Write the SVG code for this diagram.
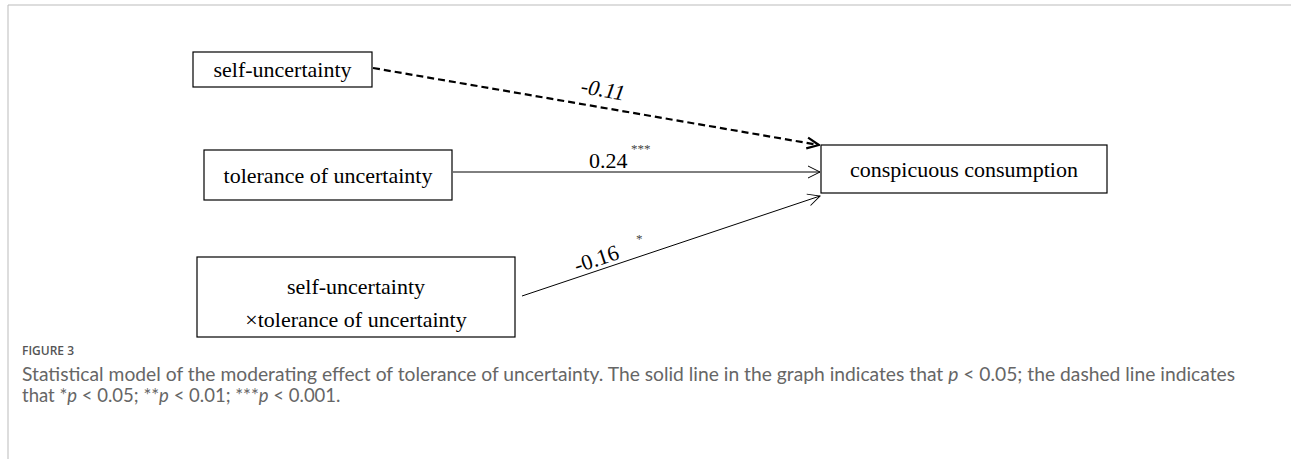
<svg xmlns="http://www.w3.org/2000/svg" width="1291" height="459" viewBox="0 0 1291 459">
<style>
.box{fill:#fff;stroke:#000;stroke-width:1.2}
.t{font-family:"Liberation Serif","Times New Roman",serif;font-size:22px;fill:#000;text-anchor:middle}
.lab{font-family:"Liberation Serif","Times New Roman",serif;font-size:22px;fill:#000}
.sup{font-family:"Liberation Serif","Times New Roman",serif;font-size:13px;fill:#444}
.cap{font-family:Lato,"Open Sans",sans-serif;font-size:18.5px;fill:#666}
.fig{font-family:"Open Sans","Noto Sans",sans-serif;font-size:12px;font-weight:600;fill:#555}
.edge{fill:none;stroke:#000;stroke-width:1}
.dash{fill:none;stroke:#000;stroke-width:2.2;stroke-dasharray:7 4}
</style>
<defs>
<marker id="arr" viewBox="0 0 14 14" refX="13" refY="7" markerWidth="14" markerHeight="14" markerUnits="userSpaceOnUse" orient="auto">
<path d="M1,1 L13,7 L1,13" fill="none" stroke="#000" stroke-width="1"/>
</marker>
<marker id="arrb" viewBox="0 0 14 14" refX="13" refY="7" markerWidth="14" markerHeight="14" markerUnits="userSpaceOnUse" orient="auto">
<path d="M1,1.5 L13,7 L1,12.5" fill="none" stroke="#000" stroke-width="2.2"/>
</marker>
</defs>
<rect width="1291" height="459" fill="#fff"/>
<path d="M8,459 L8,5 L1291,5" fill="none" stroke="#bbb" stroke-width="1"/>
<g id="connectors">
<line class="dash" x1="373" y1="68" x2="819" y2="145" marker-end="url(#arrb)"/>
<line class="edge" x1="453" y1="172" x2="820" y2="172" marker-end="url(#arr)"/>
<line class="edge" x1="522" y1="296" x2="820" y2="196" marker-end="url(#arr)"/>
<text class="lab" font-style="italic" transform="translate(580,93) rotate(9.8)">-0.11</text>
<text class="lab" x="589" y="168">0.24</text>
<text class="sup" x="631" y="153">***</text>
<text class="lab" transform="translate(577,273) rotate(-18.5)">-0.16</text>
<text class="sup" x="636" y="243">*</text>
</g>
<g id="n-self">
<rect class="box" x="193" y="52" width="179" height="35"/>
<text class="t" x="282.5" y="77">self-uncertainty</text>
</g>
<g id="n-tol">
<rect class="box" x="204" y="150" width="248" height="50"/>
<text class="t" x="328" y="183">tolerance of uncertainty</text>
</g>
<g id="n-inter">
<rect class="box" x="197" y="257" width="318" height="80"/>
<text class="t" x="356" y="294">self-uncertainty</text>
<text class="t" x="356" y="327">×tolerance of uncertainty</text>
</g>
<g id="n-cc">
<rect class="box" x="821" y="145" width="286" height="48"/>
<text class="t" x="964" y="177">conspicuous consumption</text>
</g>
<g id="caption">
<text class="fig" x="22" y="355">FIGURE 3</text>
<text class="cap" x="22" y="381" textLength="1213" lengthAdjust="spacingAndGlyphs">Statistical model of the moderating effect of tolerance of uncertainty. The solid line in the graph indicates that <tspan font-style="italic">p</tspan> &lt; 0.05; the dashed line indicates</text>
<text class="cap" x="22" y="402">that *<tspan font-style="italic">p</tspan> &lt; 0.05; **<tspan font-style="italic">p</tspan> &lt; 0.01; ***<tspan font-style="italic">p</tspan> &lt; 0.001.</text>
</g>
</svg>
